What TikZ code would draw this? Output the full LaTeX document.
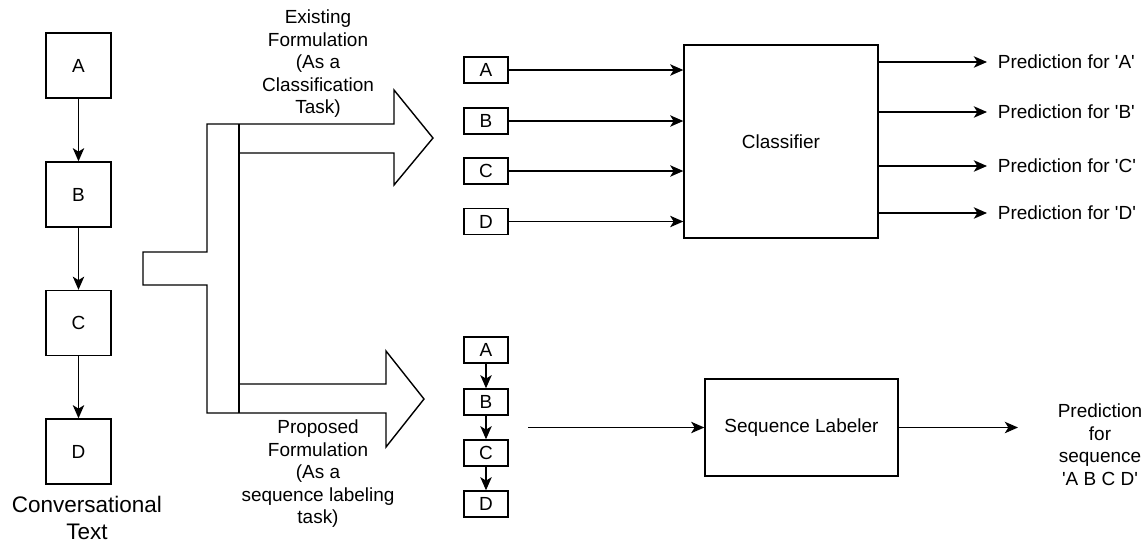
\documentclass[tikz,border=0pt]{standalone}
\usepackage{fontspec}
\setmainfont{Liberation Sans}
\usetikzlibrary{positioning, arrows.meta}
\newcommand{\sq}{\textquotesingle}
\tikzset{
  tokbox/.style={draw, line width=0.8pt, minimum width=1.3cm, minimum height=1.3cm, inner sep=0pt},
  smallbox/.style={draw, line width=0.8pt, minimum width=0.88cm, minimum height=0.52cm, inner sep=0pt},
  modelbox/.style={draw, line width=0.8pt, inner sep=0pt, align=center},
  predlab/.style={anchor=west, inner sep=6pt},
  farr/.style={-{Stealth[length=7.5pt, width=6.5pt, inset=2pt]}, line width=0.8pt},
}

\begin{document}
\begin{tikzpicture}[x=0.02cm, y=-0.02cm, font=\fontsize{10.8}{12.8}\selectfont]
  \useasboundingbox (0,0) rectangle (1147,542);

  % --- conversational text (left column) ---------------------------
  \node[tokbox] (tA) at (78.5,65.5) {A};
  \node[tokbox] (tB) at (78.5,194.5) {B};
  \node[tokbox] (tC) at (78.5,323) {C};
  \node[tokbox] (tD) at (78.5,451.5) {D};
  \node[align=center, inner sep=1pt, font=\fontsize{12.8}{15.6}\selectfont] (convlab) at (87,518) {Conversational\\Text};

  \draw[farr] (tA) -- (tB);
  \draw[farr] (tB) -- (tC);
  \draw[farr] (tC) -- (tD);

  % --- forked arrow ------------------------------------------------
  \draw[line width=0.8pt, line join=miter]
    (143,252) -- (207,252) -- (207,124) -- (394,124) -- (394,90) -- (433,138)
    -- (394,185) -- (394,153) -- (239,153) -- (239,384) -- (386,384) -- (386,351)
    -- (424,399) -- (386,447) -- (386,413) -- (207,413) -- (207,285) -- (143,285) -- cycle;
  \draw[line width=0.8pt] (239,124) -- (239,413);

  \node[align=center] (exlab) at (318,64) {Existing\\Formulation\\(As a\\Classification\\Task)};
  \node[align=center] (prlab) at (318,474) {Proposed\\Formulation\\(As a\\sequence labeling\\task)};

  % --- existing formulation ----------------------------------------
  \node[smallbox] (cA) at (486,70) {A};
  \node[smallbox] (cB) at (486,121) {B};
  \node[smallbox] (cC) at (486,171) {C};
  \node[smallbox] (cD) at (486,221.5) {D};
  \node[modelbox, minimum width=3.88cm, minimum height=3.86cm] (clf) at (781,141.5) {Classifier};

  \foreach \t in {A,B,C,D}
    \draw[farr] (c\t.east) -- (c\t.east -| clf.west);

  \node[predlab] (pA) at (987,62) {Prediction for \sq A\sq};
  \node[predlab] (pB) at (987,112) {Prediction for \sq B\sq};
  \node[predlab] (pC) at (987,166) {Prediction for \sq C\sq};
  \node[predlab] (pD) at (987,213) {Prediction for \sq D\sq};

  \foreach \t in {A,B,C,D}
    \draw[farr] (clf.east |- p\t.west) -- (p\t.west);

  % --- proposed formulation ----------------------------------------
  \node[smallbox] (sA) at (486,350) {A};
  \node[smallbox] (sB) at (486,402) {B};
  \node[smallbox] (sC) at (486,453) {C};
  \node[smallbox] (sD) at (486,504) {D};

  \draw[farr] (sA) -- (sB);
  \draw[farr] (sB) -- (sC);
  \draw[farr] (sC) -- (sD);

  \node[modelbox, minimum width=3.86cm, minimum height=1.94cm] (seq) at (801.5,427.5) {Sequence Labeler};
  \coordinate (seqin) at (528,427.5);
  \coordinate (seqout) at (1018,427.5);
  \node[align=center] (pseq) at (1100,444.5) {Prediction\\for\\sequence\\\sq A B C D\sq};

  \draw[farr] (seqin) -- (seq);
  \draw[farr] (seq) -- (seqout);

\end{tikzpicture}
\end{document}
